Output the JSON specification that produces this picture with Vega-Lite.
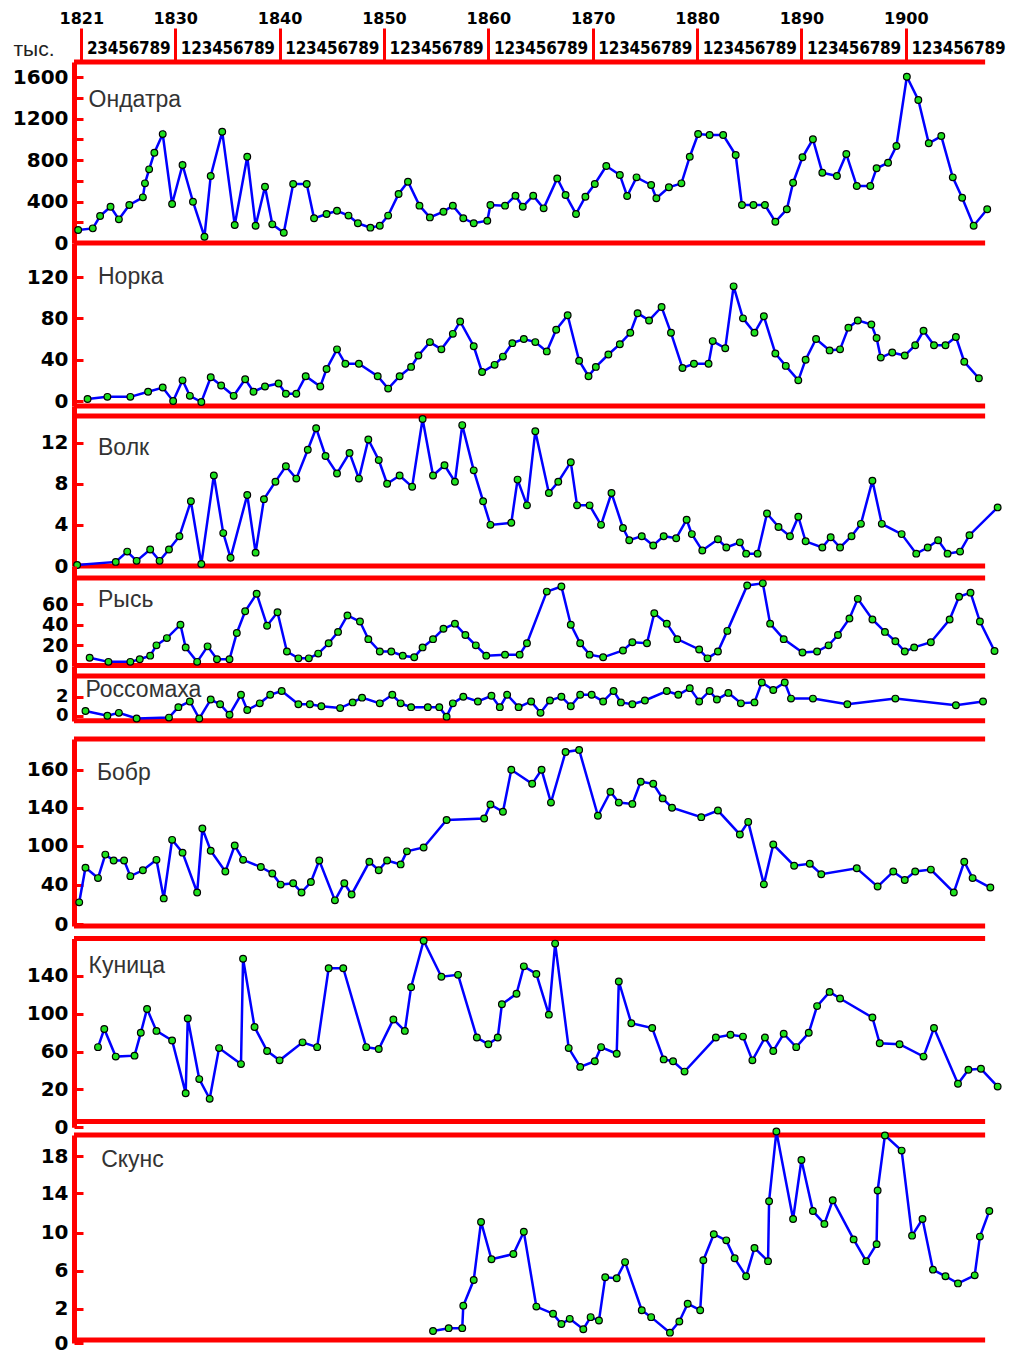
{
  "$schema": "https://vega.github.io/schema/vega-lite/v6.json",
  "background": "white",
  "padding": {"left": 12, "top": 10, "right": 0, "bottom": 0},
  "config": {"view": {"stroke": null}, "font": "DejaVu Sans", "axis": {"grid": false, "labelOverlap": false}},
  "spacing": 0,
  "bounds": "flush",
  "datasets": {
    "ondatra": [
      {"year":1820.7,"value":125},{"year":1822.1,"value":141},{"year":1822.8,"value":260},{"year":1823.8,"value":350},{"year":1824.6,"value":228},{"year":1825.6,"value":366},{"year":1826.9,"value":440},{"year":1827.1,"value":575},{"year":1827.5,"value":710},{"year":1828.0,"value":870},{"year":1828.8,"value":1050},{"year":1829.7,"value":376},{"year":1830.7,"value":752},{"year":1831.7,"value":398},{"year":1832.8,"value":61},{"year":1833.4,"value":646},{"year":1834.5,"value":1073},{"year":1835.7,"value":174},{"year":1836.9,"value":832},{"year":1837.7,"value":167},{"year":1838.6,"value":543},{"year":1839.3,"value":180},{"year":1840.4,"value":99},{"year":1841.3,"value":569},{"year":1842.6,"value":569},{"year":1843.3,"value":238},{"year":1844.5,"value":280},{"year":1845.5,"value":311},{"year":1846.6,"value":264},{"year":1847.5,"value":190},{"year":1848.7,"value":148},{"year":1849.6,"value":167},{"year":1850.4,"value":264},{"year":1851.4,"value":473},{"year":1852.3,"value":591},{"year":1853.4,"value":360},{"year":1854.4,"value":247},{"year":1855.7,"value":302},{"year":1856.6,"value":360},{"year":1857.6,"value":238},{"year":1858.6,"value":190},{"year":1859.9,"value":215},{"year":1860.2,"value":366},{"year":1861.6,"value":360},{"year":1862.6,"value":456},{"year":1863.3,"value":350},{"year":1864.3,"value":456},{"year":1865.3,"value":334},{"year":1866.6,"value":623},{"year":1867.4,"value":463},{"year":1868.4,"value":280},{"year":1869.3,"value":446},{"year":1870.2,"value":569},{"year":1871.3,"value":742},{"year":1872.6,"value":656},{"year":1873.3,"value":453},{"year":1874.2,"value":633},{"year":1875.6,"value":559},{"year":1876.1,"value":431},{"year":1877.3,"value":537},{"year":1878.5,"value":575},{"year":1879.3,"value":832},{"year":1880.1,"value":1051},{"year":1881.2,"value":1041},{"year":1882.5,"value":1041},{"year":1883.7,"value":848},{"year":1884.3,"value":366},{"year":1885.4,"value":366},{"year":1886.5,"value":366},{"year":1887.5,"value":205},{"year":1888.6,"value":325},{"year":1889.2,"value":581},{"year":1890.1,"value":826},{"year":1891.1,"value":1000},{"year":1892.0,"value":678},{"year":1893.4,"value":646},{"year":1894.3,"value":858},{"year":1895.3,"value":549},{"year":1896.6,"value":549},{"year":1897.2,"value":720},{"year":1898.3,"value":774},{"year":1899.1,"value":935},{"year":1900.1,"value":1603},{"year":1901.2,"value":1379},{"year":1902.2,"value":961},{"year":1903.4,"value":1031},{"year":1904.5,"value":633},{"year":1905.4,"value":437},{"year":1906.5,"value":167},{"year":1907.8,"value":325}
    ],
    "norka": [
      {"year":1821.6,"value":2},{"year":1823.5,"value":4},{"year":1825.7,"value":4},{"year":1827.4,"value":9},{"year":1828.8,"value":13},{"year":1829.8,"value":0},{"year":1830.7,"value":20},{"year":1831.4,"value":5},{"year":1832.5,"value":-1},{"year":1833.4,"value":23},{"year":1834.4,"value":15},{"year":1835.6,"value":5},{"year":1836.7,"value":21},{"year":1837.5,"value":9},{"year":1838.6,"value":14},{"year":1839.9,"value":17},{"year":1840.6,"value":7},{"year":1841.6,"value":7},{"year":1842.5,"value":24},{"year":1843.9,"value":14},{"year":1844.5,"value":31},{"year":1845.5,"value":50},{"year":1846.3,"value":36},{"year":1847.6,"value":36},{"year":1849.4,"value":24},{"year":1850.4,"value":12},{"year":1851.5,"value":24},{"year":1852.6,"value":33},{"year":1853.3,"value":44},{"year":1854.4,"value":57},{"year":1855.5,"value":50},{"year":1856.6,"value":65},{"year":1857.3,"value":77},{"year":1858.6,"value":53},{"year":1859.4,"value":28},{"year":1860.6,"value":35},{"year":1861.4,"value":43},{"year":1862.3,"value":56},{"year":1863.4,"value":60},{"year":1864.5,"value":57},{"year":1865.6,"value":48},{"year":1866.5,"value":69},{"year":1867.6,"value":83},{"year":1868.7,"value":39},{"year":1869.6,"value":24},{"year":1870.3,"value":33},{"year":1871.5,"value":45},{"year":1872.6,"value":55},{"year":1873.6,"value":66},{"year":1874.3,"value":85},{"year":1875.4,"value":78},{"year":1876.6,"value":91},{"year":1877.5,"value":66},{"year":1878.6,"value":32},{"year":1879.7,"value":36},{"year":1881.1,"value":36},{"year":1881.5,"value":58},{"year":1882.7,"value":51},{"year":1883.5,"value":111},{"year":1884.4,"value":80},{"year":1885.5,"value":66},{"year":1886.4,"value":82},{"year":1887.5,"value":46},{"year":1888.5,"value":34},{"year":1889.7,"value":20},{"year":1890.4,"value":40},{"year":1891.4,"value":60},{"year":1892.7,"value":49},{"year":1893.7,"value":50},{"year":1894.5,"value":71},{"year":1895.4,"value":78},{"year":1896.7,"value":74},{"year":1897.2,"value":61},{"year":1897.6,"value":42},{"year":1898.7,"value":47},{"year":1899.9,"value":44},{"year":1900.9,"value":54},{"year":1901.7,"value":68},{"year":1902.7,"value":54},{"year":1903.8,"value":54},{"year":1904.8,"value":62},{"year":1905.6,"value":38},{"year":1907.0,"value":22}
    ],
    "volk": [
      {"year":1820.6,"value":0.1},{"year":1824.3,"value":0.4},{"year":1825.4,"value":1.4},{"year":1826.3,"value":0.5},{"year":1827.6,"value":1.6},{"year":1828.5,"value":0.5},{"year":1829.4,"value":1.6},{"year":1830.4,"value":2.9},{"year":1831.5,"value":6.3},{"year":1832.5,"value":0.2},{"year":1833.7,"value":8.8},{"year":1834.6,"value":3.2},{"year":1835.3,"value":0.8},{"year":1836.9,"value":6.9},{"year":1837.7,"value":1.3},{"year":1838.5,"value":6.5},{"year":1839.6,"value":8.2},{"year":1840.6,"value":9.7},{"year":1841.6,"value":8.5},{"year":1842.7,"value":11.3},{"year":1843.5,"value":13.4},{"year":1844.4,"value":10.7},{"year":1845.5,"value":9.0},{"year":1846.7,"value":11.0},{"year":1847.6,"value":8.5},{"year":1848.5,"value":12.3},{"year":1849.5,"value":10.3},{"year":1850.3,"value":8.0},{"year":1851.5,"value":8.8},{"year":1852.7,"value":7.7},{"year":1853.7,"value":14.3},{"year":1854.7,"value":8.8},{"year":1855.8,"value":9.8},{"year":1856.8,"value":8.2},{"year":1857.5,"value":13.7},{"year":1858.6,"value":9.3},{"year":1859.5,"value":6.3},{"year":1860.2,"value":4.0},{"year":1862.2,"value":4.2},{"year":1862.8,"value":8.4},{"year":1863.7,"value":5.9},{"year":1864.5,"value":13.1},{"year":1865.8,"value":7.1},{"year":1866.7,"value":8.2},{"year":1867.9,"value":10.1},{"year":1868.5,"value":5.9},{"year":1869.7,"value":5.9},{"year":1870.8,"value":4.0},{"year":1871.8,"value":7.1},{"year":1872.9,"value":3.7},{"year":1873.5,"value":2.5},{"year":1874.7,"value":2.9},{"year":1875.8,"value":2.0},{"year":1876.8,"value":2.9},{"year":1878.0,"value":2.7},{"year":1879.0,"value":4.5},{"year":1879.5,"value":3.1},{"year":1880.5,"value":1.5},{"year":1882.0,"value":2.6},{"year":1882.8,"value":1.8},{"year":1884.1,"value":2.3},{"year":1884.7,"value":1.2},{"year":1885.8,"value":1.2},{"year":1886.7,"value":5.1},{"year":1887.8,"value":3.8},{"year":1888.9,"value":2.9},{"year":1889.7,"value":4.8},{"year":1890.4,"value":2.4},{"year":1892.0,"value":1.8},{"year":1892.8,"value":2.8},{"year":1893.7,"value":1.8},{"year":1894.8,"value":2.9},{"year":1895.7,"value":4.1},{"year":1896.8,"value":8.3},{"year":1897.7,"value":4.1},{"year":1899.6,"value":3.1},{"year":1901.0,"value":1.2},{"year":1902.1,"value":1.8},{"year":1903.1,"value":2.5},{"year":1904.0,"value":1.2},{"year":1905.2,"value":1.4},{"year":1906.1,"value":3.0},{"year":1908.8,"value":5.7}
    ],
    "rys": [
      {"year":1821.8,"value":8},{"year":1823.6,"value":4},{"year":1825.7,"value":4},{"year":1826.6,"value":6.5},{"year":1827.6,"value":10},{"year":1828.2,"value":20},{"year":1829.2,"value":27},{"year":1830.5,"value":40},{"year":1831.0,"value":18},{"year":1832.1,"value":4},{"year":1833.1,"value":19},{"year":1834.0,"value":6.5},{"year":1835.2,"value":6.5},{"year":1835.9,"value":32},{"year":1836.7,"value":53},{"year":1837.8,"value":70},{"year":1838.8,"value":39},{"year":1839.8,"value":52},{"year":1840.7,"value":14},{"year":1841.8,"value":7.4},{"year":1842.8,"value":7.4},{"year":1843.7,"value":12},{"year":1844.7,"value":22},{"year":1845.6,"value":33},{"year":1846.5,"value":49},{"year":1847.7,"value":43},{"year":1848.5,"value":26},{"year":1849.6,"value":14},{"year":1850.7,"value":14},{"year":1851.8,"value":10},{"year":1852.9,"value":8.4},{"year":1853.7,"value":18},{"year":1854.7,"value":26},{"year":1855.7,"value":36},{"year":1856.8,"value":41},{"year":1857.8,"value":30},{"year":1858.8,"value":20},{"year":1859.8,"value":10},{"year":1861.6,"value":11},{"year":1863.0,"value":11},{"year":1863.7,"value":22},{"year":1865.6,"value":72},{"year":1867.0,"value":77},{"year":1867.9,"value":40},{"year":1868.8,"value":22},{"year":1869.7,"value":11},{"year":1871.0,"value":8.4},{"year":1872.9,"value":15},{"year":1873.8,"value":23},{"year":1875.2,"value":22},{"year":1875.9,"value":51},{"year":1877.1,"value":41},{"year":1878.1,"value":26},{"year":1880.2,"value":16},{"year":1881.0,"value":7.4},{"year":1882.0,"value":14},{"year":1882.9,"value":34},{"year":1884.8,"value":78},{"year":1886.3,"value":80},{"year":1887.0,"value":41},{"year":1888.3,"value":26},{"year":1890.1,"value":13},{"year":1891.5,"value":14},{"year":1892.6,"value":20},{"year":1893.5,"value":30},{"year":1894.6,"value":46},{"year":1895.4,"value":65},{"year":1896.8,"value":45},{"year":1898.0,"value":33},{"year":1899.0,"value":24},{"year":1899.9,"value":14},{"year":1900.8,"value":18},{"year":1902.4,"value":23},{"year":1904.2,"value":45},{"year":1905.1,"value":67},{"year":1906.2,"value":71},{"year":1907.1,"value":43},{"year":1908.5,"value":14.5}
    ],
    "rossomakha": [
      {"year":1821.4,"value":0.5},{"year":1823.5,"value":0},{"year":1824.6,"value":0.3},{"year":1826.3,"value":-0.3},{"year":1829.4,"value":-0.2},{"year":1830.3,"value":0.9},{"year":1831.4,"value":1.5},{"year":1832.3,"value":-0.3},{"year":1833.4,"value":1.7},{"year":1834.3,"value":1.2},{"year":1835.2,"value":0.1},{"year":1836.3,"value":2.2},{"year":1836.9,"value":0.6},{"year":1838.1,"value":1.3},{"year":1839.1,"value":2.2},{"year":1840.2,"value":2.6},{"year":1841.8,"value":1.2},{"year":1842.9,"value":1.2},{"year":1844.0,"value":1.0},{"year":1845.8,"value":0.8},{"year":1847.0,"value":1.4},{"year":1847.9,"value":1.9},{"year":1849.6,"value":1.3},{"year":1850.8,"value":2.2},{"year":1851.6,"value":1.3},{"year":1852.6,"value":0.9},{"year":1854.2,"value":0.9},{"year":1855.3,"value":0.9},{"year":1856.0,"value":-0.1},{"year":1856.6,"value":1.3},{"year":1857.6,"value":2.0},{"year":1859.0,"value":1.5},{"year":1860.3,"value":2.1},{"year":1861.1,"value":0.9},{"year":1861.8,"value":2.2},{"year":1862.9,"value":0.9},{"year":1864.1,"value":1.5},{"year":1865.0,"value":0.3},{"year":1865.9,"value":1.6},{"year":1867.0,"value":2.0},{"year":1867.9,"value":1.0},{"year":1868.8,"value":2.2},{"year":1869.9,"value":2.2},{"year":1871.0,"value":1.5},{"year":1872.0,"value":2.6},{"year":1872.7,"value":1.4},{"year":1873.8,"value":1.2},{"year":1875.0,"value":1.6},{"year":1877.1,"value":2.6},{"year":1878.2,"value":2.2},{"year":1879.3,"value":2.9},{"year":1880.2,"value":1.5},{"year":1881.2,"value":2.6},{"year":1881.9,"value":1.7},{"year":1883.0,"value":2.4},{"year":1884.2,"value":1.3},{"year":1885.5,"value":1.4},{"year":1886.2,"value":3.5},{"year":1887.3,"value":2.7},{"year":1888.4,"value":3.5},{"year":1889.0,"value":1.8},{"year":1891.1,"value":1.8},{"year":1894.4,"value":1.2},{"year":1899.0,"value":1.8},{"year":1904.8,"value":1.1},{"year":1907.4,"value":1.5}
    ],
    "bobr": [
      {"year":1820.8,"value":22},{"year":1821.4,"value":66},{"year":1822.6,"value":50},{"year":1823.3,"value":86},{"year":1824.1,"value":77},{"year":1825.1,"value":77},{"year":1825.7,"value":53},{"year":1826.9,"value":62},{"year":1828.2,"value":78},{"year":1828.9,"value":26},{"year":1829.7,"value":106},{"year":1830.7,"value":89},{"year":1832.1,"value":32},{"year":1832.6,"value":118},{"year":1833.4,"value":92},{"year":1834.8,"value":60},{"year":1835.7,"value":100},{"year":1836.5,"value":78},{"year":1838.2,"value":67},{"year":1839.3,"value":57},{"year":1840.1,"value":40},{"year":1841.3,"value":42},{"year":1842.1,"value":32},{"year":1843.0,"value":44},{"year":1843.8,"value":77},{"year":1845.3,"value":24},{"year":1846.2,"value":42},{"year":1846.9,"value":30},{"year":1848.6,"value":75},{"year":1849.5,"value":62},{"year":1850.3,"value":77},{"year":1851.6,"value":71},{"year":1852.2,"value":91},{"year":1853.8,"value":97},{"year":1856.0,"value":127},{"year":1859.6,"value":128.6},{"year":1860.2,"value":141.7},{"year":1861.4,"value":135.7},{"year":1862.2,"value":160},{"year":1864.2,"value":152.6},{"year":1865.1,"value":160},{"year":1866.0,"value":142.7},{"year":1867.4,"value":169.4},{"year":1868.7,"value":170.5},{"year":1870.5,"value":131.5},{"year":1871.7,"value":148.4},{"year":1872.5,"value":142.7},{"year":1873.8,"value":142},{"year":1874.6,"value":153.7},{"year":1875.8,"value":152.6},{"year":1876.7,"value":144.9},{"year":1877.6,"value":140},{"year":1880.4,"value":130},{"year":1882.0,"value":137},{"year":1884.1,"value":111.7},{"year":1884.9,"value":125},{"year":1886.4,"value":40.4},{"year":1887.3,"value":101},{"year":1889.3,"value":69},{"year":1890.8,"value":72},{"year":1891.9,"value":56},{"year":1895.3,"value":65},{"year":1897.3,"value":38},{"year":1898.8,"value":60},{"year":1899.9,"value":47},{"year":1900.9,"value":60},{"year":1902.4,"value":63},{"year":1904.6,"value":32},{"year":1905.6,"value":75},{"year":1906.4,"value":50},{"year":1908.1,"value":37}
    ],
    "kunitsa": [
      {"year":1822.6,"value":65},{"year":1823.2,"value":84},{"year":1824.3,"value":55},{"year":1826.1,"value":56},{"year":1826.7,"value":80},{"year":1827.3,"value":105},{"year":1828.2,"value":82},{"year":1829.7,"value":72},{"year":1831.0,"value":18},{"year":1831.2,"value":95},{"year":1832.3,"value":31},{"year":1833.3,"value":15},{"year":1834.2,"value":64},{"year":1836.3,"value":47},{"year":1836.5,"value":158},{"year":1837.6,"value":86},{"year":1838.8,"value":61},{"year":1840.0,"value":51},{"year":1842.2,"value":70},{"year":1843.6,"value":65},{"year":1844.7,"value":148},{"year":1846.1,"value":148},{"year":1848.3,"value":65},{"year":1849.5,"value":63},{"year":1850.9,"value":94},{"year":1852.0,"value":82},{"year":1852.6,"value":128},{"year":1853.8,"value":177},{"year":1855.5,"value":139},{"year":1857.1,"value":141},{"year":1858.9,"value":75},{"year":1860.0,"value":68},{"year":1860.9,"value":75},{"year":1861.3,"value":110},{"year":1862.7,"value":121},{"year":1863.4,"value":150},{"year":1864.6,"value":142},{"year":1865.8,"value":99},{"year":1866.4,"value":174},{"year":1867.7,"value":64},{"year":1868.8,"value":44},{"year":1870.2,"value":50},{"year":1870.8,"value":65},{"year":1872.3,"value":58},{"year":1872.5,"value":134},{"year":1873.7,"value":90},{"year":1875.7,"value":85},{"year":1876.8,"value":52},{"year":1877.7,"value":50},{"year":1878.8,"value":39},{"year":1881.8,"value":75},{"year":1883.2,"value":78},{"year":1884.4,"value":76},{"year":1885.3,"value":51},{"year":1886.5,"value":75},{"year":1887.3,"value":61},{"year":1888.3,"value":79},{"year":1889.5,"value":65},{"year":1890.7,"value":80},{"year":1891.5,"value":108},{"year":1892.7,"value":123},{"year":1893.7,"value":116},{"year":1896.8,"value":96},{"year":1897.5,"value":69},{"year":1899.4,"value":68},{"year":1901.7,"value":55},{"year":1902.7,"value":85},{"year":1905.0,"value":26},{"year":1906.0,"value":41},{"year":1907.2,"value":42},{"year":1908.8,"value":23}
    ],
    "skuns": [
      {"year":1854.7,"value":0.7},{"year":1856.2,"value":0.86},{"year":1857.5,"value":0.86},{"year":1857.6,"value":2.3},{"year":1858.6,"value":5.0},{"year":1859.3,"value":11.1},{"year":1860.3,"value":7.2},{"year":1862.4,"value":7.75},{"year":1863.4,"value":10.1},{"year":1864.6,"value":2.2},{"year":1866.2,"value":1.7},{"year":1867.0,"value":1.1},{"year":1867.8,"value":1.4},{"year":1869.1,"value":0.8},{"year":1869.8,"value":1.5},{"year":1870.6,"value":1.3},{"year":1871.2,"value":5.3},{"year":1872.3,"value":5.2},{"year":1873.1,"value":6.9},{"year":1874.7,"value":1.9},{"year":1875.6,"value":1.5},{"year":1877.4,"value":0.6},{"year":1878.3,"value":1.25},{"year":1879.1,"value":2.5},{"year":1880.3,"value":1.9},{"year":1880.6,"value":7.1},{"year":1881.6,"value":9.85},{"year":1882.8,"value":9.2},{"year":1883.6,"value":7.3},{"year":1884.7,"value":5.4},{"year":1885.5,"value":8.4},{"year":1886.8,"value":7.0},{"year":1886.9,"value":13.2},{"year":1887.6,"value":20.6},{"year":1889.2,"value":11.4},{"year":1890.0,"value":17.6},{"year":1891.1,"value":12.2},{"year":1892.2,"value":10.9},{"year":1893.0,"value":13.3},{"year":1895.0,"value":9.3},{"year":1896.2,"value":7.0},{"year":1897.2,"value":8.8},{"year":1897.3,"value":14.3},{"year":1898.0,"value":20.2},{"year":1899.6,"value":18.6},{"year":1900.6,"value":9.7},{"year":1901.6,"value":11.4},{"year":1902.6,"value":6.1},{"year":1903.8,"value":5.4},{"year":1905.0,"value":4.65},{"year":1906.6,"value":5.5},{"year":1907.1,"value":9.6},{"year":1908.0,"value":12.2}
    ]
  },
  "vconcat": [
    {
      "width": 932, "height": 181,
      "resolve": {"axis": {"x": "independent"}},
      "layer": [
        {"data": {"values": [{}]}, "mark": {"type": "rule", "color": "#ff0000", "strokeWidth": 5},
         "encoding": {"x": {"datum": 1820.3, "type": "quantitative", "axis": {"orient": "top", "values": [1821,1830,1840,1850,1860,1870,1880,1890,1900], "tickCount": 50, "format": "d", "domain": false, "ticks": true, "tickColor": "#ff0000", "tickWidth": 3, "tickSize": 34, "labelPadding": 2, "labelFont": "DejaVu Sans", "labelFontWeight": "bold", "labelFontSize": 16, "labelColor": "#000000", "title": null, "labelFlush": false, "labelOverlap": false, "labelBound": false}},
                      "x2": {"datum": 1907.6}, "y": {"datum": 1745, "type": "quantitative", "axis": {"labelOverlap": false}}}},
        {"data": {"values": [{}]}, "mark": {"type": "rule", "color": "#ff0000", "strokeWidth": 5},
         "encoding": {"x": {"datum": 1820.3, "type": "quantitative", "axis": null}, "x2": {"datum": 1907.6}, "y": {"datum": 0, "type": "quantitative", "axis": {"labelOverlap": false}}}},
        {"data": {"name": "ondatra"},
         "mark": {"type": "line", "color": "#0000ff", "strokeWidth": 2.5, "point": {"filled": true, "fill": "#1fe01f", "stroke": "#000000", "strokeWidth": 1.2, "size": 45, "opacity": 1}},
         "encoding": {
           "x": {"field": "year", "type": "quantitative", "scale": {"domain": [1820.3, 1909.6], "nice": false, "zero": false},
                 "axis": {"orient": "top", "values": [1822,1823,1824,1825,1826,1827,1828,1829,1831,1832,1833,1834,1835,1836,1837,1838,1839,1841,1842,1843,1844,1845,1846,1847,1848,1849,1851,1852,1853,1854,1855,1856,1857,1858,1859,1861,1862,1863,1864,1865,1866,1867,1868,1869,1871,1872,1873,1874,1875,1876,1877,1878,1879,1881,1882,1883,1884,1885,1886,1887,1888,1889,1891,1892,1893,1894,1895,1896,1897,1898,1899,1901,1902,1903,1904,1905,1906,1907,1908,1909], "tickCount": 200,
                          "labelExpr": "'' + (datum.value % 10)", "domain": false, "ticks": false, "labelPadding": 5, "labelFont": "Liberation Sans Narrow, DejaVu Sans Condensed, Liberation Sans", "labelFontWeight": "bold", "labelFontSize": 17, "labelColor": "#000000", "title": null, "labelFlush": false, "labelOverlap": false, "labelBound": false}},
           "y": {"field": "value", "type": "quantitative", "scale": {"domain": [0, 1745], "nice": false, "zero": false},
                 "axis": {"orient": "left", "title": "тыс.", "titleAngle": 0, "titleX": -61, "titleY": -13, "titleAlign": "left", "titleBaseline": "middle", "titleFont": "Liberation Sans", "titleFontSize": 21, "titleFontWeight": "normal", "titleColor": "#222222",
                          "values": [0,200,400,600,800,1000,1200,1400,1600], "tickCount": 50, "format": "d", "labelExpr": "datum.value % 400 == 0 ? format(datum.value, 'd') : ''",
                          "domainColor": "#ff0000", "domainWidth": 5, "tickColor": "#ff0000", "tickWidth": 3, "tickSize": -9, "labelPadding": 15, "labelFont": "DejaVu Sans", "labelFontWeight": "bold", "labelFontSize": 20, "labelColor": "#000000", "labelBaseline": "middle", "labelFlush": false, "labelOverlap": false, "labelBound": false}}
         }},
        {"data": {"values": [{"name": "Ондатра"}]}, "mark": {"type": "text", "align": "left", "baseline": "middle", "font": "Liberation Sans", "fontSize": 23, "color": "#333333"},
         "encoding": {"x": {"datum": 1821.7, "type": "quantitative", "axis": null}, "y": {"datum": 1378, "type": "quantitative", "axis": {"labelOverlap": false}}, "text": {"field": "name"}}}
      ]
    },
    {
      "width": 932, "height": 163,
      "layer": [
        {"data": {"values": [{}]}, "mark": {"type": "rule", "color": "#ff0000", "strokeWidth": 5},
         "encoding": {"x": {"datum": 1820.3, "type": "quantitative", "axis": null}, "x2": {"datum": 1907.6}, "y": {"datum": -4.8, "type": "quantitative", "axis": {"labelOverlap": false}}}},
        {"data": {"name": "norka"},
         "mark": {"type": "line", "color": "#0000ff", "strokeWidth": 2.5, "point": {"filled": true, "fill": "#1fe01f", "stroke": "#000000", "strokeWidth": 1.2, "size": 45, "opacity": 1}},
         "encoding": {
           "x": {"field": "year", "type": "quantitative", "scale": {"domain": [1820.3, 1909.6], "nice": false, "zero": false}, "axis": null},
           "y": {"field": "value", "type": "quantitative", "scale": {"domain": [-4.84, 152.95], "nice": false, "zero": false},
                 "axis": {"orient": "left", "title": null, "values": [0,40,80,120], "tickCount": 50, "format": "d", "domainColor": "#ff0000", "domainWidth": 5, "tickColor": "#ff0000", "tickWidth": 3, "tickSize": -9, "labelPadding": 15, "labelFont": "DejaVu Sans", "labelFontWeight": "bold", "labelFontSize": 20, "labelColor": "#000000", "labelBaseline": "middle", "labelFlush": false, "labelOverlap": false, "labelBound": false}}
         }},
        {"data": {"values": [{"name": "Норка"}]}, "mark": {"type": "text", "align": "left", "baseline": "middle", "font": "Liberation Sans", "fontSize": 23, "color": "#333333"},
         "encoding": {"x": {"datum": 1822.6, "type": "quantitative", "axis": null}, "y": {"datum": 120, "type": "quantitative", "axis": {"labelOverlap": false}}, "text": {"field": "name"}}}
      ]
    },
    {
      "width": 932, "height": 160,
      "layer": [
        {"data": {"values": [{}]}, "mark": {"type": "rule", "color": "#ff0000", "strokeWidth": 5},
         "encoding": {"x": {"datum": 1820.3, "type": "quantitative", "axis": null}, "x2": {"datum": 1907.6}, "y": {"datum": 14.59, "type": "quantitative", "axis": {"labelOverlap": false}}}},
        {"data": {"values": [{}]}, "mark": {"type": "rule", "color": "#ff0000", "strokeWidth": 5},
         "encoding": {"x": {"datum": 1820.3, "type": "quantitative", "axis": null}, "x2": {"datum": 1907.6}, "y": {"datum": 0, "type": "quantitative", "axis": {"labelOverlap": false}}}},
        {"data": {"name": "volk"},
         "mark": {"type": "line", "color": "#0000ff", "strokeWidth": 2.5, "point": {"filled": true, "fill": "#1fe01f", "stroke": "#000000", "strokeWidth": 1.2, "size": 45, "opacity": 1}},
         "encoding": {
           "x": {"field": "year", "type": "quantitative", "scale": {"domain": [1820.3, 1909.6], "nice": false, "zero": false}, "axis": null},
           "y": {"field": "value", "type": "quantitative", "scale": {"domain": [0, 15.56], "nice": false, "zero": false},
                 "axis": {"orient": "left", "title": null, "values": [0,4,8,12], "tickCount": 50, "format": "d", "domainColor": "#ff0000", "domainWidth": 5, "tickColor": "#ff0000", "tickWidth": 3, "tickSize": -9, "labelPadding": 15, "labelFont": "DejaVu Sans", "labelFontWeight": "bold", "labelFontSize": 20, "labelColor": "#000000", "labelBaseline": "middle", "labelFlush": false, "labelOverlap": false, "labelBound": false}}
         }},
        {"data": {"values": [{"name": "Волк"}]}, "mark": {"type": "text", "align": "left", "baseline": "middle", "font": "Liberation Sans", "fontSize": 23, "color": "#333333"},
         "encoding": {"x": {"datum": 1822.6, "type": "quantitative", "axis": null}, "y": {"datum": 11.5, "type": "quantitative", "axis": {"labelOverlap": false}}, "text": {"field": "name"}}}
      ]
    },
    {
      "width": 932, "height": 100,
      "layer": [
        {"data": {"values": [{}]}, "mark": {"type": "rule", "color": "#ff0000", "strokeWidth": 5},
         "encoding": {"x": {"datum": 1820.3, "type": "quantitative", "axis": null}, "x2": {"datum": 1907.6}, "y": {"datum": 85.2, "type": "quantitative", "axis": {"labelOverlap": false}}}},
        {"data": {"values": [{}]}, "mark": {"type": "rule", "color": "#ff0000", "strokeWidth": 5},
         "encoding": {"x": {"datum": 1820.3, "type": "quantitative", "axis": null}, "x2": {"datum": 1907.6}, "y": {"datum": 0.5, "type": "quantitative", "axis": {"labelOverlap": false}}}},
        {"data": {"name": "rys"},
         "mark": {"type": "line", "color": "#0000ff", "strokeWidth": 2.5, "point": {"filled": true, "fill": "#1fe01f", "stroke": "#000000", "strokeWidth": 1.2, "size": 45, "opacity": 1}},
         "encoding": {
           "x": {"field": "year", "type": "quantitative", "scale": {"domain": [1820.3, 1909.6], "nice": false, "zero": false}, "axis": null},
           "y": {"field": "value", "type": "quantitative", "scale": {"domain": [0, 96.8], "nice": false, "zero": false},
                 "axis": {"orient": "left", "title": null, "values": [0,20,40,60], "tickCount": 50, "format": "d", "domainColor": "#ff0000", "domainWidth": 5, "tickColor": "#ff0000", "tickWidth": 3, "tickSize": -9, "labelPadding": 15, "labelFont": "DejaVu Sans", "labelFontWeight": "bold", "labelFontSize": 19, "labelColor": "#000000", "labelBaseline": "middle", "labelFlush": false, "labelOverlap": false, "labelBound": false}}
         }},
        {"data": {"values": [{"name": "Рысь"}]}, "mark": {"type": "text", "align": "left", "baseline": "middle", "font": "Liberation Sans", "fontSize": 23, "color": "#333333"},
         "encoding": {"x": {"datum": 1822.6, "type": "quantitative", "axis": null}, "y": {"datum": 64, "type": "quantitative", "axis": {"labelOverlap": false}}, "text": {"field": "name"}}}
      ]
    },
    {
      "width": 932, "height": 55,
      "layer": [
        {"data": {"values": [{}]}, "mark": {"type": "rule", "color": "#ff0000", "strokeWidth": 5},
         "encoding": {"x": {"datum": 1820.3, "type": "quantitative", "axis": null}, "x2": {"datum": 1907.6}, "y": {"datum": 4.18, "type": "quantitative", "axis": {"labelOverlap": false}}}},
        {"data": {"values": [{}]}, "mark": {"type": "rule", "color": "#ff0000", "strokeWidth": 5},
         "encoding": {"x": {"datum": 1820.3, "type": "quantitative", "axis": null}, "x2": {"datum": 1907.6}, "y": {"datum": -0.53, "type": "quantitative", "axis": {"labelOverlap": false}}}},
        {"data": {"name": "rossomakha"},
         "mark": {"type": "line", "color": "#0000ff", "strokeWidth": 2.5, "point": {"filled": true, "fill": "#1fe01f", "stroke": "#000000", "strokeWidth": 1.2, "size": 45, "opacity": 1}},
         "encoding": {
           "x": {"field": "year", "type": "quantitative", "scale": {"domain": [1820.3, 1909.6], "nice": false, "zero": false}, "axis": null},
           "y": {"field": "value", "type": "quantitative", "scale": {"domain": [-0.56, 5.23], "nice": false, "zero": false},
                 "axis": {"orient": "left", "title": null, "values": [0,2], "tickCount": 50, "format": "d", "domainColor": "#ff0000", "domainWidth": 5, "tickColor": "#ff0000", "tickWidth": 3, "tickSize": -9, "labelPadding": 15, "labelFont": "DejaVu Sans", "labelFontWeight": "bold", "labelFontSize": 18, "labelColor": "#000000", "labelBaseline": "middle", "labelFlush": false, "labelOverlap": false, "labelBound": false}}
         }},
        {"data": {"values": [{"name": "Россомаха"}]}, "mark": {"type": "text", "align": "left", "baseline": "middle", "font": "Liberation Sans", "fontSize": 23, "color": "#333333"},
         "encoding": {"x": {"datum": 1821.4, "type": "quantitative", "axis": null}, "y": {"datum": 2.7, "type": "quantitative", "axis": {"labelOverlap": false}}, "text": {"field": "name"}}}
      ]
    },
    {
      "width": 932, "height": 205,
      "layer": [
        {"data": {"values": [{}]}, "mark": {"type": "rule", "color": "#ff0000", "strokeWidth": 5},
         "encoding": {"x": {"datum": 1820.3, "type": "quantitative", "axis": null}, "x2": {"datum": 1907.6}, "y": {"datum": 176.25, "type": "quantitative", "axis": {"labelOverlap": false}}}},
        {"data": {"values": [{}]}, "mark": {"type": "rule", "color": "#ff0000", "strokeWidth": 5},
         "encoding": {"x": {"datum": 1820.3, "type": "quantitative", "axis": null}, "x2": {"datum": 1907.6}, "y": {"datum": -2.03, "type": "quantitative", "axis": {"labelOverlap": false}}}},
        {"data": {"name": "bobr"},
         "mark": {"type": "line", "color": "#0000ff", "strokeWidth": 2.5, "point": {"filled": true, "fill": "#1fe01f", "stroke": "#000000", "strokeWidth": 1.2, "size": 45, "opacity": 1}},
         "encoding": {
           "x": {"field": "year", "type": "quantitative", "scale": {"domain": [1820.3, 1909.6], "nice": false, "zero": false}, "axis": null},
           "y": {"field": "value", "type": "quantitative", "scale": {"domain": [-2.03, 0, 40, 100, 140, 160, 176.25], "range": [205, 203, 163.6, 124.5, 86.7, 48.8, 18], "nice": false, "zero": false},
                 "axis": {"orient": "left", "title": null, "values": [0,40,100,140,160], "tickCount": 50, "format": "d", "domainColor": "#ff0000", "domainWidth": 5, "tickColor": "#ff0000", "tickWidth": 3, "tickSize": -9, "labelPadding": 15, "labelFont": "DejaVu Sans", "labelFontWeight": "bold", "labelFontSize": 20, "labelColor": "#000000", "labelBaseline": "middle", "labelFlush": false, "labelOverlap": false, "labelBound": false}}
         }},
        {"data": {"values": [{"name": "Бобр"}]}, "mark": {"type": "text", "align": "left", "baseline": "middle", "font": "Liberation Sans", "fontSize": 23, "color": "#333333"},
         "encoding": {"x": {"datum": 1822.5, "type": "quantitative", "axis": null}, "y": {"datum": 158.3, "type": "quantitative", "axis": {"labelOverlap": false}}, "text": {"field": "name"}}}
      ]
    },
    {
      "width": 932, "height": 195,
      "layer": [
        {"data": {"values": [{}]}, "mark": {"type": "rule", "color": "#ff0000", "strokeWidth": 5},
         "encoding": {"x": {"datum": 1820.3, "type": "quantitative", "axis": null}, "x2": {"datum": 1907.6}, "y": {"datum": 179.4, "type": "quantitative", "axis": {"labelOverlap": false}}}},
        {"data": {"values": [{}]}, "mark": {"type": "rule", "color": "#ff0000", "strokeWidth": 5},
         "encoding": {"x": {"datum": 1820.3, "type": "quantitative", "axis": null}, "x2": {"datum": 1907.6}, "y": {"datum": 3.0, "type": "quantitative", "axis": {"labelOverlap": false}}}},
        {"data": {"name": "kunitsa"},
         "mark": {"type": "line", "color": "#0000ff", "strokeWidth": 2.5, "point": {"filled": true, "fill": "#1fe01f", "stroke": "#000000", "strokeWidth": 1.2, "size": 45, "opacity": 1}},
         "encoding": {
           "x": {"field": "year", "type": "quantitative", "scale": {"domain": [1820.3, 1909.6], "nice": false, "zero": false}, "axis": null},
           "y": {"field": "value", "type": "quantitative", "scale": {"domain": [0, 20, 60, 100, 140, 179.4], "range": [201.2, 163.4, 125.9, 87.7, 49.8, 12.5], "nice": false, "zero": false},
                 "axis": {"orient": "left", "title": null, "values": [0,20,60,100,140], "tickCount": 50, "format": "d", "domainColor": "#ff0000", "domainWidth": 5, "tickColor": "#ff0000", "tickWidth": 3, "tickSize": -9, "labelPadding": 15, "labelFont": "DejaVu Sans", "labelFontWeight": "bold", "labelFontSize": 20, "labelColor": "#000000", "labelBaseline": "middle", "labelFlush": false, "labelOverlap": false, "labelBound": false}}
         }},
        {"data": {"values": [{"name": "Куница"}]}, "mark": {"type": "text", "align": "left", "baseline": "middle", "font": "Liberation Sans", "fontSize": 23, "color": "#333333"},
         "encoding": {"x": {"datum": 1821.7, "type": "quantitative", "axis": null}, "y": {"datum": 150.3, "type": "quantitative", "axis": {"labelOverlap": false}}, "text": {"field": "name"}}}
      ]
    },
    {
      "width": 932, "height": 219,
      "layer": [
        {"data": {"values": [{}]}, "mark": {"type": "rule", "color": "#ff0000", "strokeWidth": 5},
         "encoding": {"x": {"datum": 1820.3, "type": "quantitative", "axis": null}, "x2": {"datum": 1907.6}, "y": {"datum": 20.24, "type": "quantitative", "axis": {"labelOverlap": false}}}},
        {"data": {"values": [{}]}, "mark": {"type": "rule", "color": "#ff0000", "strokeWidth": 5},
         "encoding": {"x": {"datum": 1820.3, "type": "quantitative", "axis": null}, "x2": {"datum": 1907.6}, "y": {"datum": 0.17, "type": "quantitative", "axis": {"labelOverlap": false}}}},
        {"data": {"name": "skuns"},
         "mark": {"type": "line", "color": "#0000ff", "strokeWidth": 2.5, "point": {"filled": true, "fill": "#1fe01f", "stroke": "#000000", "strokeWidth": 1.2, "size": 45, "opacity": 1}},
         "encoding": {
           "x": {"field": "year", "type": "quantitative", "scale": {"domain": [1820.3, 1909.6], "nice": false, "zero": false}, "axis": null},
           "y": {"field": "value", "type": "quantitative", "scale": {"domain": [0, 2, 6, 10, 14, 18, 20.24], "range": [222, 187.5, 149.6, 111.8, 72.3, 35.3, 14], "nice": false, "zero": false},
                 "axis": {"orient": "left", "title": null, "values": [0,2,6,10,14,18], "tickCount": 50, "format": "d", "domainColor": "#ff0000", "domainWidth": 5, "tickColor": "#ff0000", "tickWidth": 3, "tickSize": -9, "labelPadding": 15, "labelFont": "DejaVu Sans", "labelFontWeight": "bold", "labelFontSize": 20, "labelColor": "#000000", "labelBaseline": "middle", "labelFlush": false, "labelOverlap": false, "labelBound": false}}
         }},
        {"data": {"values": [{"name": "Скунс"}]}, "mark": {"type": "text", "align": "left", "baseline": "middle", "font": "Liberation Sans", "fontSize": 23, "color": "#333333"},
         "encoding": {"x": {"datum": 1822.9, "type": "quantitative", "axis": null}, "y": {"datum": 17.6, "type": "quantitative", "axis": {"labelOverlap": false}}, "text": {"field": "name"}}}
      ]
    }
  ]
}
